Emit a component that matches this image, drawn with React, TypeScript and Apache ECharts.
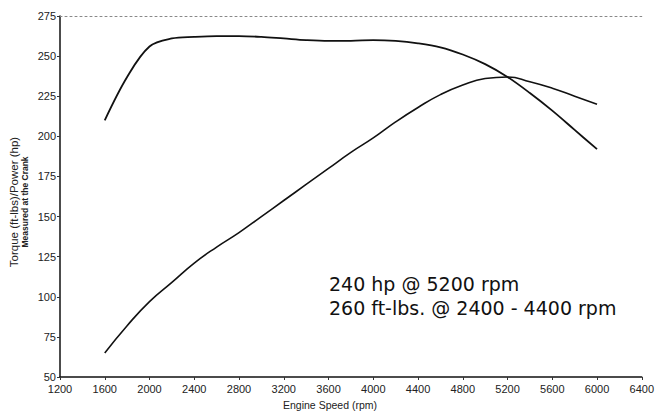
import React, { useEffect, useRef } from "react";
import * as echarts from "echarts";

const rpm = [1600, 1800, 2000, 2200, 2400, 2600, 2800, 3000, 3200, 3400, 3600, 3800, 4000, 4200, 4400, 4600, 4800, 5000, 5200, 5400, 5600, 5800, 6000];
const torque = [210, 237, 256, 261, 262, 262.5, 262.5, 262, 261, 260, 259.5, 259.5, 260, 259.5, 258, 255.5, 251, 245, 237, 227, 216, 204, 192];
const power = [65, 82, 97, 109, 121, 131, 140, 150, 160, 170, 180, 190, 199, 209, 218, 226, 232, 236, 237, 234, 230, 225, 220];
const annotations = ["240 hp @ 5200 rpm", "260 ft-lbs. @ 2400 - 4400 rpm"];
const yTitle = "Torque (ft-lbs)/Power (hp)";
const ySubTitle = "Measured at the Crank";
const xTitle = "Engine Speed (rpm)";

export default function App() {
  const ref = useRef<HTMLDivElement>(null);
  useEffect(() => {
    if (!ref.current) return;
    const chart = echarts.init(ref.current, null, { renderer: "svg" });
    const tickFont = "'Liberation Sans Narrow', 'Arial Narrow', 'Liberation Sans', sans-serif";
    chart.setOption({
      animation: false,
      backgroundColor: "#ffffff",
      grid: { left: 60, right: 8, top: 16, bottom: 36, containLabel: false },
      xAxis: [
        {
          type: "value",
          min: 1200,
          max: 6400,
          interval: 400,
          axisLine: { show: true, lineStyle: { color: "#111", width: 1.5 } },
          axisTick: { show: true, length: 3, lineStyle: { color: "#333" } },
          axisLabel: { color: "#222", fontSize: 11, fontFamily: tickFont, margin: 6, formatter: (v: number) => String(v) },
          splitLine: { show: false },
        },
        {
          type: "value",
          position: "top",
          min: 1200,
          max: 6400,
          axisLine: { show: true, lineStyle: { color: "#888", width: 1, type: [2, 3] } },
          axisTick: { show: false },
          axisLabel: { show: false },
          splitLine: { show: false },
        },
      ],
      yAxis: {
        type: "value",
        min: 50,
        max: 275,
        interval: 25,
        axisLine: { show: true, lineStyle: { color: "#111", width: 1.5 } },
        axisTick: { show: true, length: 3, lineStyle: { color: "#333" } },
        axisLabel: { color: "#222", fontSize: 11, fontFamily: tickFont, margin: 4 },
        splitLine: { show: false },
      },
      series: [
        {
          name: "Torque",
          type: "line",
          smooth: 0.35,
          showSymbol: false,
          data: rpm.map((r, i) => [r, torque[i]]),
          lineStyle: { color: "#111", width: 1.8 },
        },
        {
          name: "Power",
          type: "line",
          smooth: 0.5,
          showSymbol: false,
          data: rpm.map((r, i) => [r, power[i]]),
          lineStyle: { color: "#111", width: 1.6 },
        },
      ],
      graphic: [
        {
          type: "text",
          left: 329,
          top: 272,
          style: {
            text: annotations.join("\n"),
            fontSize: 19,
            lineHeight: 24,
            fontFamily: "'DejaVu Sans', Verdana, sans-serif",
            fill: "#111",
          },
        },
        {
          type: "text",
          x: 14,
          y: 202,
          rotation: Math.PI / 2,
          style: {
            text: yTitle,
            fontSize: 11.5,
            fontFamily: tickFont,
            fill: "#222",
            align: "center",
            verticalAlign: "middle",
          },
        },
        {
          type: "text",
          x: 25,
          y: 202,
          rotation: Math.PI / 2,
          style: {
            text: ySubTitle,
            fontSize: 8.5,
            fontWeight: "bold",
            fontFamily: tickFont,
            fill: "#222",
            align: "center",
            verticalAlign: "middle",
          },
        },
        {
          type: "text",
          x: 330,
          y: 405,
          style: {
            text: xTitle,
            fontSize: 10.5,
            fontFamily: tickFont,
            fill: "#222",
            align: "center",
            verticalAlign: "middle",
          },
        },
      ],
    });
    return () => chart.dispose();
  }, []);
  return <div ref={ref} style={{ width: 657, height: 413, position: "fixed", left: 0, top: 0 }} />;
}
